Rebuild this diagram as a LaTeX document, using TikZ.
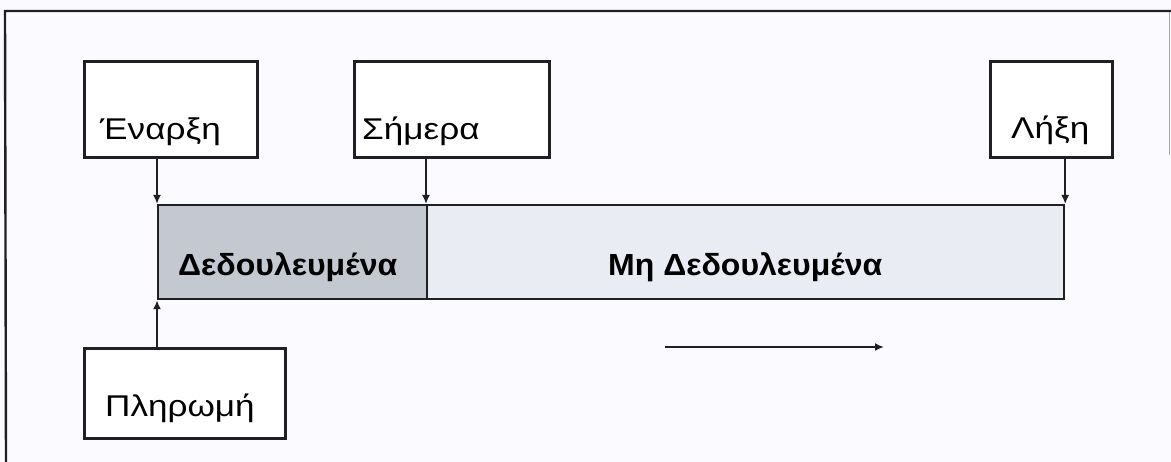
\documentclass[tikz,border=0pt]{standalone}
\usepackage{fontspec}
\setmainfont{Liberation Sans}
\usetikzlibrary{arrows.meta}
\definecolor{workfill}{RGB}{196,200,209}
\definecolor{restfill}{RGB}{233,236,242}
\definecolor{linecol}{RGB}{30,32,36}
\newcommand{\wideR}[1]{\scalebox{1.17}[1]{#1}}
\newcommand{\wideB}[1]{\scalebox{1.05}[1]{#1}}
\tikzset{
  box/.style={draw=linecol, line width=2.8pt, fill=white, inner sep=0pt, anchor=north west},
  lbl/.style={anchor=base west, inner sep=0pt, font=\fontsize{30}{34}\selectfont},
  blbl/.style={anchor=base west, inner sep=0pt, font=\fontsize{30.5}{34}\selectfont\bfseries},
  seg/.style={draw=linecol, line width=2.2pt, inner sep=0pt, anchor=north west},
  conn/.style={draw=linecol, line width=2pt, -{Latex[length=9pt,width=8pt]}},
  frame/.style={draw=linecol, line width=2.4pt}
}
\begin{document}
\begin{tikzpicture}[x=1pt,y=-1pt]
\useasboundingbox (0,0) rectangle (1171,462);
\fill[white!98!blue] (0,0) rectangle (1171,462);
% frame
\coordinate (ftl) at (5,11);
\coordinate (ftr) at (1171,11);
\coordinate (fbl) at (6,462);
\draw[frame] (ftr) -- (ftl) -- (fbl);
\coordinate (rt) at (1169.5,12);
\coordinate (rb) at (1169.5,155);
\draw[draw=gray!70, line width=1pt] (rt) -- (rb);
% boxes
\node[box, minimum width=173pt, minimum height=96pt] (start) at (83,60) {};
\node[box, minimum width=195pt, minimum height=96pt] (today) at (353,60) {};
\node[box, minimum width=122pt, minimum height=96pt] (end) at (989,60) {};
\node[box, minimum width=201pt, minimum height=90pt] (pay) at (83,347) {};
\node[lbl] (tstart) at (100,140) {\wideR{Έναρξη}};
\node[lbl] (ttoday) at (362,140) {\wideR{Σήμερα}};
\node[lbl] (tend) at (1011,139) {\wideR{Λήξη}};
\node[lbl] (tpay) at (105,417) {\wideR{Πληρωμή}};
% bar
\node[seg, fill=workfill, minimum width=269pt, minimum height=94pt] (worked) at (157,204) {};
\node[seg, fill=restfill, minimum width=637pt, minimum height=94pt] (rest) at (426,204) {};
\node[blbl] (tworked) at (178,276) {\wideB{Δεδουλευμένα}};
\node[blbl] (trest) at (608,276) {\wideB{Μη Δεδουλευμένα}};
% connectors
\draw[conn] (start.south -| worked.north west) -- (worked.north west);
\draw[conn] (today.south -| rest.north west) -- (rest.north west);
\draw[conn] (end.south -| rest.north east) -- (rest.north east);
\draw[conn] (pay.north -| worked.south west) -- (worked.south west);
% time arrow
\coordinate (a1) at (665,347);
\coordinate (a2) at (884,347);
\draw[conn, line width=2.6pt] (a1) -- (a2);
\end{tikzpicture}
\end{document}
